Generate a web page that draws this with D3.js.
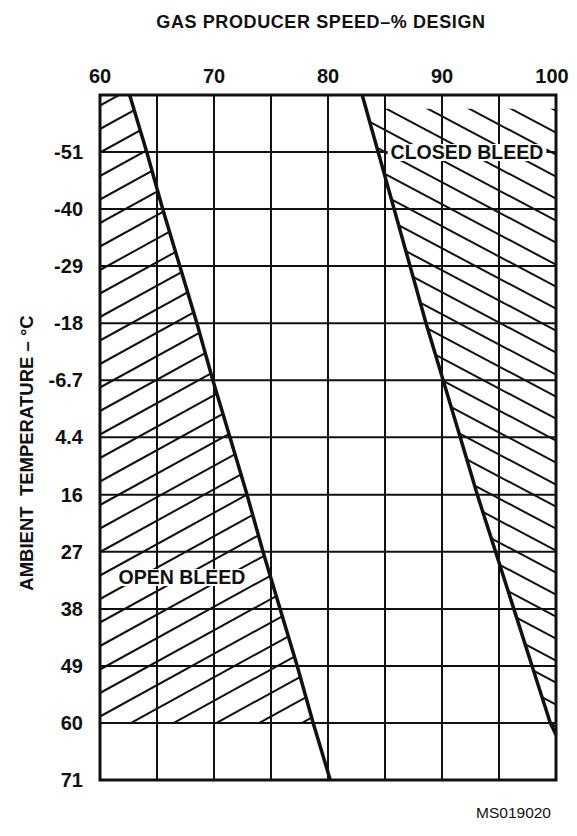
<!DOCTYPE html>
<html>
<head>
<meta charset="utf-8">
<script src="https://cdn.jsdelivr.net/npm/d3@7"></script>
<style>
  html, body { margin: 0; padding: 0; background: #fff; }
  svg text { font-family: "Liberation Sans", Arial, sans-serif; fill: #111; }
</style>
</head>
<body>
<svg id="chart" width="577" height="836"></svg>
<script>
// ---- data ----
const speedTicks = [60, 70, 80, 90, 100];
const speedGrid = [65, 70, 75, 80, 85, 90, 95];
const tempTicks = [-51.1, -40, -28.9, -17.8, -6.7, 4.4, 15.6, 26.7, 37.8, 48.9, 60, 71.1];
const tempTickLabels = ["-51", "-40", "-29", "-18", "-6.7", "4.4", "16", "27", "38", "49", "60", "71"];
const tempDomain = [-62.2, 71.1];
const speedDomain = [60, 100];

// boundary lines (temperature, speed)
const openTemps  = [-62.2, -51.1, -40, -28.9, -17.8, -6.7, 4.4, 15.6, 26.7, 37.8, 48.9, 60, 71.1];
const openSpeeds = [62.6, 64.1, 65.5, 67.0, 68.5, 69.9, 71.4, 72.9, 74.3, 75.8, 77.3, 78.7, 80.2];
const closedTemps  = [-62.2, -51.1, -40, -28.9, -17.8, -6.7, 4.4, 15.6, 26.7, 37.8, 48.9, 60, 62.3];
const closedSpeeds = [83.0, 84.4, 85.8, 87.2, 88.6, 90.1, 91.6, 93.1, 94.7, 96.3, 97.9, 99.5, 100];
const openHatchLimit = 60;      // open-bleed hatching stops at 60 °C
const closedHatchTop = -59.5;   // closed-bleed hatching starts just below the top

const titleText = "GAS PRODUCER SPEED\u2013% DESIGN";
const yTitleText = "AMBIENT  TEMPERATURE \u2013 \u00B0C";
const openLabel = "OPEN BLEED";
const closedLabel = "CLOSED BLEED";
const codeText = "MS019020";

// ---- scales ----
const x = d3.scaleLinear().domain(speedDomain).range([100, 556]);
const y = d3.scaleLinear().domain(tempDomain).range([95, 780]);

const svg = d3.select("#chart");

// ---- hatch regions ----
const openPts = [[60, tempDomain[0]]];
openTemps.forEach((t, i) => { if (t <= openHatchLimit) openPts.push([openSpeeds[i], t]); });
openPts.push([60, openHatchLimit]);

const cInterp = d3.scaleLinear().domain(closedTemps).range(closedSpeeds);
const closedPts = [[cInterp(closedHatchTop), closedHatchTop]];
closedTemps.forEach((t, i) => { if (t > closedHatchTop) closedPts.push([closedSpeeds[i], t]); });
closedPts.push([100, closedHatchTop]);

const toPath = pts => "M" + pts.map(p => x(p[0]) + "," + y(p[1])).join("L") + "Z";

const defs = svg.append("defs");
defs.append("clipPath").attr("id", "clipOpen").append("path").attr("d", toPath(openPts));
defs.append("clipPath").attr("id", "clipClosed").append("path").attr("d", toPath(closedPts));

function hatch(clipId, slope, spacing, start) {
  const g = svg.append("g").attr("clip-path", `url(#${clipId})`)
    .attr("stroke", "#111").attr("stroke-width", 2);
  const x0 = x.range()[0], x1 = x.range()[1];
  for (let b = start - 400; b < 1300; b += spacing) {
    g.append("line")
      .attr("x1", x0).attr("y1", b)
      .attr("x2", x1).attr("y2", b + slope * (x1 - x0));
  }
}
hatch("clipOpen", -0.55, 23.5, 12);
hatch("clipClosed", 0.53, 22, 5);

// ---- grid ----
const grid = svg.append("g").attr("stroke", "#111").attr("stroke-width", 2);
grid.selectAll(".v").data(speedGrid).join("line")
  .attr("x1", d => x(d)).attr("x2", d => x(d))
  .attr("y1", y.range()[0]).attr("y2", y.range()[1]);
grid.selectAll(".h").data(tempTicks.slice(0, -1)).join("line")
  .attr("x1", x.range()[0]).attr("x2", x.range()[1])
  .attr("y1", d => y(d)).attr("y2", d => y(d));

// ---- boundary lines ----
const line = d3.line().x(d => x(d[1])).y(d => y(d[0]));
svg.append("path").datum(openTemps.map((t, i) => [t, openSpeeds[i]]))
  .attr("d", line).attr("fill", "none").attr("stroke", "#111").attr("stroke-width", 3.5);
svg.append("path").datum(closedTemps.map((t, i) => [t, closedSpeeds[i]]))
  .attr("d", line).attr("fill", "none").attr("stroke", "#111").attr("stroke-width", 3.5);

// ---- frame ----
svg.append("rect")
  .attr("x", x.range()[0]).attr("y", y.range()[0])
  .attr("width", x.range()[1] - x.range()[0]).attr("height", y.range()[1] - y.range()[0])
  .attr("fill", "none").attr("stroke", "#111").attr("stroke-width", 3);

// ---- region labels with white boxes ----
function boxLabel(text, cx, cy, fs) {
  const t = svg.append("text").attr("x", cx).attr("y", cy)
    .attr("text-anchor", "middle").attr("dominant-baseline", "central")
    .attr("font-size", fs).attr("font-weight", "bold").text(text);
  const bb = t.node().getBBox();
  svg.insert("rect", function() { return t.node(); })
    .attr("x", bb.x - 3).attr("y", bb.y + 3).attr("width", bb.width + 6).attr("height", bb.height - 5)
    .attr("fill", "#fff");
}
boxLabel(openLabel, 182, y(31.6), 19.5);
boxLabel(closedLabel, 467, y(-51.1), 19.5);

// ---- axes labels ----
svg.append("g").selectAll("text").data(speedTicks).join("text")
  .attr("x", d => x(d) - (d === 100 ? 4 : 0)).attr("y", 76)
  .attr("text-anchor", "middle").attr("dominant-baseline", "central")
  .attr("font-size", 20).attr("font-weight", "bold").text(d => d);

svg.append("g").selectAll("text").data(tempTicks).join("text")
  .attr("x", 83).attr("y", d => y(d))
  .attr("text-anchor", "end").attr("dominant-baseline", "central")
  .attr("font-size", 20).attr("font-weight", "bold")
  .text((d, i) => tempTickLabels[i]);

svg.append("text").attr("x", 321).attr("y", 22)
  .attr("text-anchor", "middle").attr("dominant-baseline", "central")
  .attr("font-size", 18).attr("letter-spacing", 0.6).attr("font-weight", "bold").text(titleText);

svg.append("text")
  .attr("transform", `translate(26,453) rotate(-90)`)
  .attr("text-anchor", "middle").attr("dominant-baseline", "central")
  .attr("font-size", 18.5).attr("font-weight", "bold")
  .style("white-space", "pre").text(yTitleText);

svg.append("text").attr("x", 551).attr("y", 812)
  .attr("text-anchor", "end").attr("dominant-baseline", "central")
  .attr("font-size", 15.5).text(codeText);
</script>
</body>
</html>
